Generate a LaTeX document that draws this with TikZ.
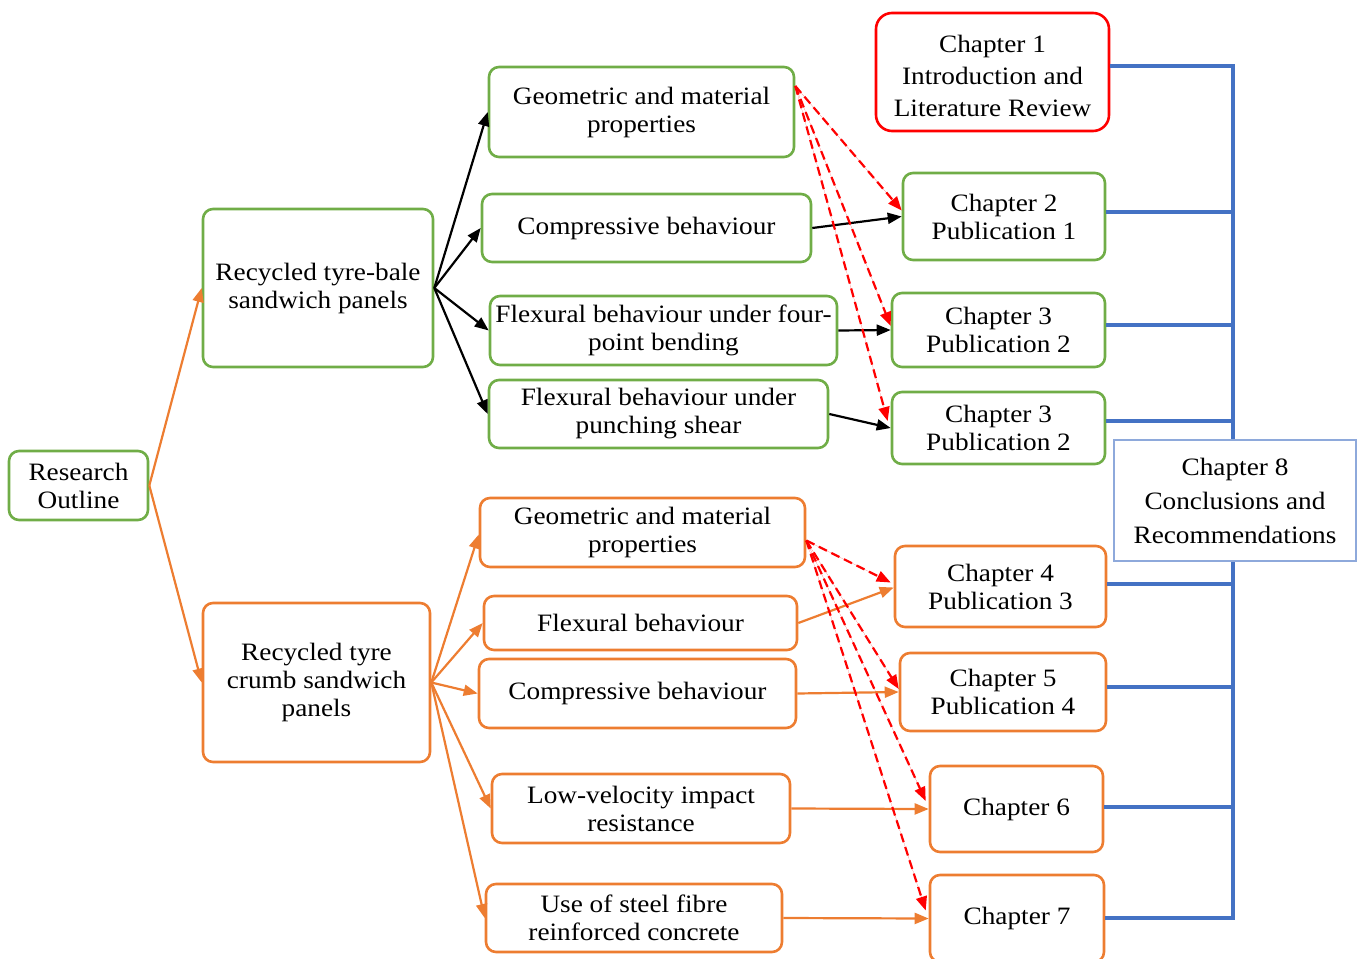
\documentclass[tikz,border=0pt]{standalone}
\usepackage{fontspec}
\setmainfont{Liberation Serif}[FakeStretch=1.09]
\usetikzlibrary{arrows.meta}
\definecolor{cgreen}{HTML}{70AD47}
\definecolor{corange}{HTML}{ED7D31}
\definecolor{cred}{HTML}{FF0000}
\definecolor{cblue}{HTML}{4472C4}
\definecolor{clblue}{HTML}{8EA9DB}
\tikzset{
  box/.style={draw, line width=2.6pt, rounded corners=10pt, align=center, inner sep=0pt,
    font=\fontsize{25}{28}\selectfont},
  gbox/.style={box, draw=cgreen},
  obox/.style={box, draw=corange},
  rbox/.style={box, draw=cred, rounded corners=16pt, font=\fontsize{25}{32}\selectfont},
  bbox/.style={draw=clblue, line width=1.6pt, align=center, inner sep=0pt, fill=white,
    font=\fontsize{25}{34}\selectfont},
  tip/.style={-{Triangle[length=14pt,width=11pt]}},
  karr/.style={tip, line width=2.2pt, draw=black},
  oarr/.style={tip, line width=2.2pt, draw=corange, fill=corange},
  rarr/.style={tip, line width=2.2pt, draw=cred, fill=cred, dash pattern=on 9pt off 5pt},
  bline/.style={draw=cblue, line width=3.2pt},
}
\begin{document}
\begin{tikzpicture}[x=1pt,y=-1pt]
\useasboundingbox (0,0) rectangle (1359,958);
% left
\node[gbox, minimum width=139pt, minimum height=69pt] (RO) at (78.5,485.5) {Research\\Outline};
\node[gbox, minimum width=230pt, minimum height=158pt] (TB) at (318,288) {Recycled tyre-bale\\sandwich panels};
\node[obox, minimum width=227pt, minimum height=159pt] (CR) at (316.5,682.5) {Recycled tyre\\crumb sandwich\\panels};
% upper middle
\node[gbox, minimum width=305pt, minimum height=90pt] (G1) at (641.5,112) {Geometric and material\\properties};
\node[gbox, minimum width=329pt, minimum height=68pt] (C1) at (646.5,228) {Compressive behaviour};
\node[gbox, minimum width=347pt, minimum height=69pt] (F1) at (663.5,330.5) {Flexural behaviour under four-\\point bending};
\node[gbox, minimum width=339pt, minimum height=68pt] (P1) at (658.5,414) {Flexural behaviour under\\punching shear};
% lower middle
\node[obox, minimum width=325pt, minimum height=69pt] (G2) at (642.5,532.5) {Geometric and material\\properties};
\node[obox, minimum width=313pt, minimum height=54pt] (FB2) at (640.5,623) {Flexural behaviour};
\node[obox, minimum width=317pt, minimum height=69pt] (CB2) at (637.5,693.5) {Compressive behaviour};
\node[obox, minimum width=298pt, minimum height=69pt] (LV) at (641,808.5) {Low-velocity impact\\resistance};
\node[obox, minimum width=296pt, minimum height=68pt] (SF) at (634,918) {Use of steel fibre\\reinforced concrete};
% chapters
\node[rbox, minimum width=233pt, minimum height=118pt] (Ch1) at (992.5,72) {\rule{0pt}{26pt}Chapter 1\\Introduction and\\Literature Review};
\node[gbox, minimum width=202pt, minimum height=87pt] (Ch2) at (1004,216.5) {Chapter 2\\Publication 1};
\node[gbox, minimum width=213pt, minimum height=74pt] (Ch3a) at (998.5,330) {Chapter 3\\Publication 2};
\node[gbox, minimum width=213pt, minimum height=72pt] (Ch3b) at (998.5,428) {Chapter 3\\Publication 2};
\node[obox, minimum width=211pt, minimum height=81pt] (Ch4) at (1000.5,586.5) {Chapter 4\\Publication 3};
\node[obox, minimum width=206pt, minimum height=78pt] (Ch5) at (1003,692) {Chapter 5\\Publication 4};
\node[obox, minimum width=173pt, minimum height=86pt] (Ch6) at (1016.5,809) {Chapter 6};
\node[obox, minimum width=174pt, minimum height=87pt] (Ch7) at (1017,918.5) {Chapter 7};
% blue bracket
\coordinate (top) at (1233,66);
\coordinate (bot) at (1233,918);
\draw[bline] ([yshift=6pt]Ch1.east) -- (top) -- (bot) -- ([yshift=0.5pt]Ch7.east);
\draw[bline] ([yshift=4.5pt]Ch2.east) -- ([yshift=4.5pt]Ch2.east -| top);
\draw[bline] ([yshift=5pt]Ch3a.east) -- ([yshift=5pt]Ch3a.east -| top);
\draw[bline] ([yshift=7pt]Ch3b.east) -- ([yshift=7pt]Ch3b.east -| top);
\draw[bline] ([yshift=2.5pt]Ch4.east) -- ([yshift=2.5pt]Ch4.east -| top);
\draw[bline] ([yshift=5pt]Ch5.east) -- ([yshift=5pt]Ch5.east -| top);
\draw[bline] ([yshift=2pt]Ch6.east) -- ([yshift=2pt]Ch6.east -| top);
\node[bbox, minimum width=242pt, minimum height=121pt] (Ch8) at (1235,500.5) {Chapter 8\\Conclusions and\\Recommendations};
% arrows from research outline
\draw[oarr] (RO.east) -- (TB.west);
\draw[oarr] (RO.east) -- (CR.west);
% tyre-bale
\draw[karr] (TB.east) -- (G1.west);
\draw[karr] (TB.east) -- (C1.west);
\draw[karr] (TB.east) -- (F1.west);
\draw[karr] (TB.east) -- (P1.west);
% crumb
\draw[oarr] (CR.east) -- ([yshift=-2pt]G2.west);
\draw[oarr] (CR.east) -- (FB2.west);
\draw[oarr] (CR.east) -- (CB2.west);
\draw[oarr] (CR.east) -- (LV.west);
\draw[oarr] (CR.east) -- (SF.west);
% to chapters
\draw[karr] (C1.east) -- (Ch2.west);
\draw[karr] (F1.east) -- (Ch3a.west);
\draw[karr] (P1.east) -- (Ch3b.west);
\draw[oarr] (FB2.east) -- ([yshift=-1pt]Ch4.west);
\draw[oarr] (CB2.east) -- (Ch5.west);
\draw[oarr] (LV.east) -- (Ch6.west);
\draw[oarr] (SF.east) -- (Ch7.west);
% red dashed
\draw[rarr] ([yshift=26pt]G1.east) -- ([yshift=6pt]Ch2.west);
\draw[rarr] ([yshift=26pt]G1.east) -- ([yshift=4pt]Ch3a.west);
\draw[rarr] ([yshift=26pt]G1.east) -- ([xshift=-3pt,yshift=7pt]Ch3b.west);
\draw[rarr] ([yshift=-8pt]G2.east) -- ([xshift=-3pt,yshift=4pt]Ch4.west);
\draw[rarr] ([yshift=-8pt]G2.east) -- ([yshift=3pt]Ch5.west);
\draw[rarr] ([yshift=-8pt]G2.east) -- ([xshift=-3pt,yshift=8pt]Ch6.west);
\draw[rarr] ([yshift=-8pt]G2.east) -- ([xshift=-3pt,yshift=8pt]Ch7.west);
\end{tikzpicture}
\end{document}
